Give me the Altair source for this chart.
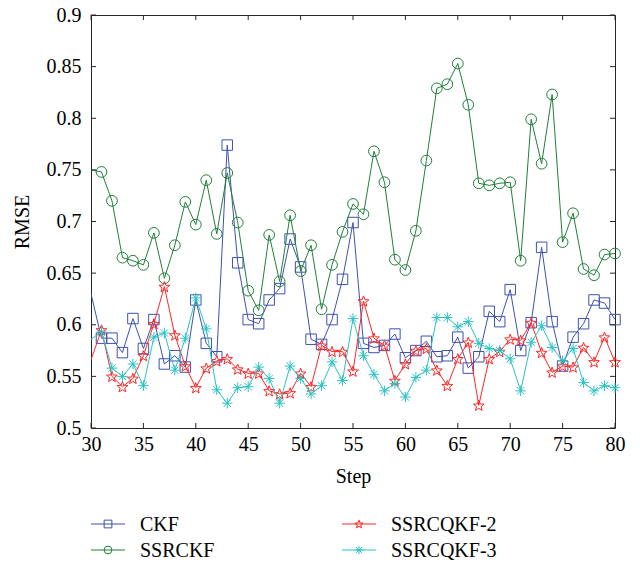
import math
import altair as alt
import pandas as pd

steps = list(range(30, 81))

ckf = [0.630, 0.587, 0.587, 0.573, 0.606, 0.577, 0.605, 0.562, 0.570, 0.559,
       0.624, 0.582, 0.569, 0.774, 0.660, 0.605, 0.601, 0.624, 0.635, 0.683,
       0.656, 0.586, 0.581, 0.605, 0.644, 0.699, 0.582, 0.578, 0.580, 0.591,
       0.568, 0.575, 0.584, 0.569, 0.570, 0.588, 0.558, 0.569, 0.613, 0.603,
       0.634, 0.575, 0.602, 0.675, 0.603, 0.560, 0.588, 0.601, 0.624, 0.621, 0.605]

ssrckf = [0.750, 0.748, 0.720, 0.665, 0.662, 0.658, 0.689, 0.645, 0.677, 0.719,
          0.697, 0.740, 0.688, 0.747, 0.699, 0.633, 0.614, 0.687, 0.642, 0.706,
          0.652, 0.677, 0.615, 0.658, 0.690, 0.717, 0.707, 0.768, 0.738, 0.663,
          0.653, 0.691, 0.759, 0.829, 0.833, 0.853, 0.813, 0.737, 0.735, 0.737,
          0.738, 0.662, 0.799, 0.756, 0.823, 0.680, 0.708, 0.654, 0.648, 0.668, 0.669]

ssrcqkf2 = [0.566, 0.595, 0.550, 0.540, 0.548, 0.570, 0.601, 0.637, 0.590, 0.560,
            0.539, 0.558, 0.565, 0.567, 0.557, 0.553, 0.553, 0.536, 0.533, 0.534,
            0.553, 0.540, 0.580, 0.574, 0.574, 0.555, 0.623, 0.587, 0.580, 0.546,
            0.562, 0.575, 0.577, 0.556, 0.541, 0.567, 0.583, 0.522, 0.567, 0.574,
            0.586, 0.585, 0.602, 0.573, 0.554, 0.560, 0.559, 0.578, 0.564, 0.588, 0.564]

ssrcqkf3 = [0.586, 0.593, 0.558, 0.550, 0.562, 0.541, 0.588, 0.592, 0.556, 0.587,
            0.626, 0.596, 0.537, 0.524, 0.539, 0.540, 0.559, 0.548, 0.524, 0.560,
            0.548, 0.533, 0.541, 0.564, 0.546, 0.606, 0.570, 0.552, 0.536, 0.543,
            0.530, 0.549, 0.556, 0.607, 0.607, 0.598, 0.603, 0.582, 0.577, 0.575,
            0.567, 0.536, 0.583, 0.599, 0.578, 0.565, 0.577, 0.544, 0.536, 0.541, 0.539]

names = ["CKF", "SSRCKF", "SSRCQKF-2", "SSRCQKF-3"]
colors = ["#3f51b0", "#1f7f3a", "#ff2626", "#2cc2c2"]

x_ticks = [30, 35, 40, 45, 50, 55, 60, 65, 70, 75, 80]
y_ticks = [0.5, 0.55, 0.6, 0.65, 0.7, 0.75, 0.8, 0.85, 0.9]

# marker outlines (unit box -1..1)
pts = []
for k in range(10):
    r = 1.0 if k % 2 == 0 else 0.42
    a = -math.pi / 2 + k * math.pi / 5
    pts.append((r * math.cos(a), r * math.sin(a) + 0.1))
star_path = "M" + "L".join(f"{px:.3f},{py:.3f}" for px, py in pts) + "Z"
asterisk_path = "M-1,0L1,0M0,-1L0,1M-0.7,-0.7L0.7,0.7M-0.7,0.7L0.7,-0.7"
shapes = ["square", "circle", star_path, asterisk_path]
sizes = [110, 115, 130, 110]

W, H = 524, 413
FONT = "Liberation Serif, Times New Roman, DejaVu Serif, serif"
FRAME = "#262626"

series = [ckf, ssrckf, ssrcqkf2, ssrcqkf3]

xs = alt.Scale(domain=[30, 80], nice=False, zero=False)
ys = alt.Scale(domain=[0.5, 0.9], nice=False, zero=False)

x_axis = alt.Axis(values=x_ticks, format="d", ticks=False, domain=False, grid=False,
                  labelFlush=False, labelOverlap=False,
                  labelFont=FONT, labelFontSize=20, labelColor="black", labelPadding=6,
                  title="Step", titleFont=FONT, titleFontSize=20, titleFontWeight="normal",
                  titleColor="black", titlePadding=12)
y_axis = alt.Axis(values=y_ticks, format=".2~f", ticks=False, domain=False, grid=False,
                  labelFlush=False, labelOverlap=False,
                  labelFont=FONT, labelFontSize=20, labelColor="black", labelPadding=10,
                  title="RMSE", titleFont=FONT, titleFontSize=20, titleFontWeight="normal",
                  titleColor="black", titlePadding=14)

X = lambda: alt.X("step:Q", scale=xs, axis=x_axis, title="Step")
Y = lambda: alt.Y("value:Q", scale=ys, axis=y_axis, title="RMSE")

layers = []
for name, vals, col, shp, sz in zip(names, series, colors, shapes, sizes):
    sdf = pd.DataFrame({"step": steps, "value": vals, "series": name})
    layers.append(alt.Chart(sdf).mark_line(color=col, strokeWidth=1, clip=True).encode(
        x=X(), y=Y()))
    layers.append(alt.Chart(sdf).transform_filter("datum.step > 30").mark_point(
        shape=shp, color=col, filled=False, strokeWidth=1, size=sz, opacity=1).encode(
        x=X(), y=Y()))

ydf = pd.DataFrame({"value": y_ticks})
xdf = pd.DataFrame({"step": x_ticks})
layers.append(alt.Chart(ydf).mark_rule(color=FRAME, strokeWidth=1).encode(
    y=Y(), x=alt.value(0), x2=alt.value(5)))
layers.append(alt.Chart(ydf).mark_rule(color=FRAME, strokeWidth=1).encode(
    y=Y(), x=alt.value(W - 5), x2=alt.value(W)))
layers.append(alt.Chart(xdf).mark_rule(color=FRAME, strokeWidth=1).encode(
    x=X(), y=alt.value(H - 5), y2=alt.value(H)))
layers.append(alt.Chart(xdf).mark_rule(color=FRAME, strokeWidth=1).encode(
    x=X(), y=alt.value(0), y2=alt.value(5)))

# manual legend (two columns)
leg_pos = [(0, 509), (0, 535), (251, 509), (251, 535)]
leg_sizes = [60, 60, 75, 70]
for name, col, shp, lsz, (lx, ly) in zip(names, colors, shapes, leg_sizes, leg_pos):
    ldf = pd.DataFrame({"series": [name]})
    layers.append(alt.Chart(ldf).mark_rule(color=col, strokeWidth=1).encode(
        x=alt.value(lx), x2=alt.value(lx + 34), y=alt.value(ly)))
    layers.append(alt.Chart(ldf).mark_point(
        shape=shp, color=col, filled=False, strokeWidth=1, size=lsz, opacity=1).encode(
        x=alt.value(lx + 17), y=alt.value(ly)))
    layers.append(alt.Chart(ldf).mark_text(
        align="left", baseline="middle", font=FONT, fontSize=20, color="black").encode(
        x=alt.value(lx + 49), y=alt.value(ly + 1), text="series:N"))

chart = alt.layer(*layers).properties(
    width=W, height=H,
    background="white",
    autosize=alt.AutoSizeParams(type="none"),
    padding={"left": 83, "top": 7, "right": 17, "bottom": 133},
).configure_view(
    stroke=FRAME, strokeWidth=1
)

chart.save("out.html", embed_options={"renderer": "svg", "actions": False})
